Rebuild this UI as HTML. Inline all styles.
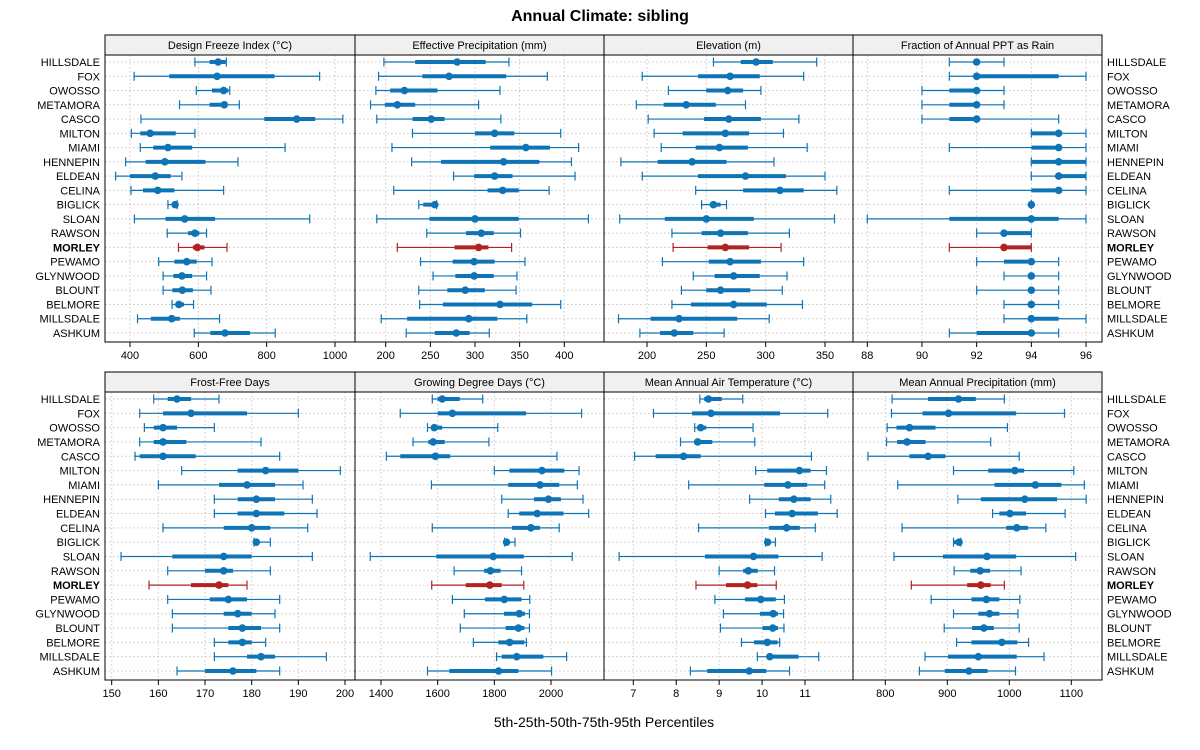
<!DOCTYPE html>
<html><head><meta charset="utf-8">
<style>
html,body{margin:0;padding:0;background:#fff;}
svg{display:block;font-family:"Liberation Sans",sans-serif;}
</style></head>
<body>
<svg id="chart" width="1200" height="750" viewBox="0 0 1200 750" xmlns="http://www.w3.org/2000/svg">
<text x="600" y="21" text-anchor="middle" font-size="16" font-weight="bold">Annual Climate: sibling</text>
<text x="604" y="727" text-anchor="middle" font-size="14">5th-25th-50th-75th-95th Percentiles</text>
<g id="panels"></g>
</svg>
<script>
const sites = ["HILLSDALE","FOX","OWOSSO","METAMORA","CASCO","MILTON","MIAMI","HENNEPIN","ELDEAN","CELINA","BIGLICK","SLOAN","RAWSON","MORLEY","PEWAMO","GLYNWOOD","BLOUNT","BELMORE","MILLSDALE","ASHKUM"];
const panelTitles = ["Design Freeze Index (\u00B0C)","Effective Precipitation (mm)","Elevation (m)","Fraction of Annual PPT as Rain","Frost-Free Days","Growing Degree Days (\u00B0C)","Mean Annual Air Temperature (\u00B0C)","Mean Annual Precipitation (mm)"];
const ticksFreeze = [400,600,800,1000];
const ticksEffPpt = [200,250,300,350,400];
const ticksElev = [200,250,300,350];
const ticksRain = [88,90,92,94,96];
const ticksFrost = [150,160,170,180,190,200];
const ticksGDD = [1400,1600,1800,2000];
const ticksMAAT = [7,8,9,10,11];
const ticksMAP = [800,900,1000,1100];
// each row: [p5,p25,p50,p75,p95]
const freezeIdx = [[590,633,658,680,682],[412,515,655,823,955],[594,640,674,688,692],[545,633,676,682,720],[432,793,888,942,1023],[404,430,459,534,590],[430,468,511,582,854],[387,446,502,621,716],[358,400,474,519,552],[403,438,481,530,674],[511,524,532,536,538],[413,504,560,649,926],[509,570,590,603,624],[542,584,597,618,684],[484,530,566,595,640],[497,527,552,582,624],[497,524,553,584,637],[523,534,543,558,586],[422,461,522,546,662],[588,635,678,751,825]];
const effPpt = [[198,233,280,312,338],[192,241,271,335,381],[189,205,221,258,328],[183,199,213,233,304],[190,230,251,266,329],[230,300,322,344,396],[207,317,357,384,416],[229,262,332,372,408],[276,299,322,342,412],[209,314,331,349,383],[237,242,255,257,257],[190,249,300,349,427],[246,290,307,321,351],[213,277,304,315,341],[239,275,299,322,356],[253,278,299,321,347],[237,269,289,311,346],[238,264,328,364,396],[195,224,293,325,358],[223,255,279,294,316]];
const elevation = [[256,279,292,306,343],[196,243,270,295,332],[218,250,268,281,296],[191,214,233,258,283],[201,248,269,296,328],[206,230,266,286,315],[212,241,261,285,335],[178,209,238,267,307],[196,243,283,317,350],[241,281,312,332,360],[246,253,256,262,267],[177,215,250,290,358],[221,246,262,285,320],[222,251,266,286,313],[213,252,270,296,332],[239,257,273,295,318],[229,250,262,287,314],[221,237,273,301,331],[176,203,227,276,303],[194,211,223,239,265]];
const rainFrac = [[91,92,92,92,93],[91,92,92,95,96],[90,91,92,92,93],[90,91,92,92,93],[90,91,92,92,95],[94,94,95,95,96],[91,94,95,95,96],[94,94,95,96,96],[94,95,95,96,96],[91,94,95,95,96],[94,94,94,94,94],[88,91,94,95,96],[92,93,93,94,94],[91,93,93,94,94],[92,93,94,94,95],[93,94,94,94,95],[92,94,94,94,95],[93,94,94,94,95],[93,94,94,95,96],[91,92,94,94,95]];
const frostFree = [[159,162,164,167,173],[156,161,167,179,190],[157,159,161,164,172],[156,159,161,166,182],[155,156,161,168,186],[165,177,183,190,199],[160,173,179,185,191],[172,177,181,185,193],[172,177,181,187,194],[161,174,180,184,192],[180.5,181,181,181.5,184],[152,163,174,180,193],[162,170,174,176,184],[158,167,173,175,179],[162,171,175,179,186],[163,174,177,180,185],[163,175,178,182,186],[172,175,178,180,183],[172,179,182,185,196],[164,170,176,181,186]];
const gdd = [[1581,1600,1616,1678,1759],[1468,1600,1652,1912,2108],[1564,1581,1588,1616,1812],[1513,1567,1584,1625,1781],[1419,1468,1592,1644,2021],[1800,1853,1968,2047,2099],[1578,1849,1961,2029,2093],[1826,1940,1991,2035,2113],[1849,1888,1951,2044,2133],[1581,1862,1929,1961,2029],[1836,1838,1843,1849,1873],[1362,1595,1796,1904,2075],[1658,1764,1786,1822,1896],[1579,1699,1784,1826,1904],[1652,1767,1835,1896,1925],[1694,1834,1888,1908,1924],[1680,1840,1885,1906,1924],[1726,1814,1854,1906,1913],[1808,1826,1879,1973,2055],[1564,1641,1815,1885,2002]];
const maat = [[8.55,8.65,8.75,9.06,9.55],[7.47,8.37,8.81,10.42,11.53],[8.43,8.51,8.57,8.70,9.79],[8.10,8.42,8.50,8.84,9.83],[7.03,7.52,8.17,8.57,11.15],[9.85,10.12,10.87,11.13,11.50],[8.29,10.05,10.60,11.05,11.46],[9.71,10.39,10.74,11.13,11.60],[10.08,10.30,10.70,11.30,11.75],[8.52,10.16,10.57,10.88,11.24],[10.08,10.10,10.13,10.20,10.31],[6.67,8.67,9.80,10.38,11.40],[9.00,9.56,9.68,9.90,10.29],[8.46,9.16,9.66,9.89,10.33],[8.90,9.60,9.97,10.32,10.52],[9.10,9.95,10.26,10.37,10.50],[9.03,10.01,10.25,10.37,10.51],[9.52,9.81,10.12,10.36,10.41],[9.89,10.11,10.18,10.85,11.32],[8.33,8.72,9.70,10.10,10.64]];
const map = [[811,869,918,946,992],[810,860,902,1011,1089],[803,818,839,881,997],[802,819,835,865,970],[772,839,869,897,1016],[910,966,1009,1024,1104],[820,976,1042,1084,1121],[917,954,1025,1077,1124],[973,984,1001,1027,1090],[827,995,1012,1030,1059],[910,911,919,921,922],[814,893,964,1011,1107],[911,937,953,969,1019],[842,932,954,970,992],[874,939,963,984,1017],[910,950,968,984,1014],[895,940,959,975,1016],[915,939,988,1013,1031],[864,901,950,1012,1056],[855,896,935,965,1010]];

const NS="http://www.w3.org/2000/svg";
const root=document.getElementById('panels');
function el(tag,attrs,parent){const e=document.createElementNS(NS,tag);for(const k in attrs)e.setAttribute(k,attrs[k]);(parent||root).appendChild(e);return e;}
// axis calibration: [value1, px1, value2, px2]
const panels=[
 {data:freezeIdx,ticks:ticksFreeze,cal:[400,130,1000,335]},
 {data:effPpt,ticks:ticksEffPpt,cal:[200,385.7,400,564.3]},
 {data:elevation,ticks:ticksElev,cal:[200,647,350,825]},
 {data:rainFrac,ticks:ticksRain,cal:[88,867.3,96,1086]},
 {data:frostFree,ticks:ticksFrost,cal:[150,111.7,200,345]},
 {data:gdd,ticks:ticksGDD,cal:[1400,381,2000,551]},
 {data:maat,ticks:ticksMAAT,cal:[7,633.3,11,805]},
 {data:map,ticks:ticksMAP,cal:[800,885.3,1100,1071.3]}
];
const colX=[105,355,604,853,1102];
const rowsY=[{strip:35,top:55,bot:342},{strip:372,top:392,bot:680}];
const BLUE="#0f74b5", RED="#b22222";
panels.forEach((p,i)=>{
  const c=i%4,r=Math.floor(i/4);
  const x0=colX[c],x1=colX[c+1],R=rowsY[r];
  const sx=v=>p.cal[1]+(v-p.cal[0])*(p.cal[3]-p.cal[1])/(p.cal[2]-p.cal[0]);
  const n=sites.length;
  const yTop=R.top+7,yBot=R.bot-9;
  const sy=k=>yTop+k*(yBot-yTop)/(n-1);
  const g=el('g',{});
  
  
  const st=el('rect',{x:x0,y:R.strip,width:x1-x0,height:R.top-R.strip,fill:'#f0f0f0',stroke:'#000','stroke-width':1},g);
  
  
  const tt=el('text',{x:(x0+x1)/2,y:R.strip+14,'text-anchor':'middle','font-size':11},g);
  tt.textContent=panelTitles[i];
  
  
  // grid
  sites.forEach((s,k)=>{
    const gl=el('line',{x1:x0,x2:x1,y1:sy(k),y2:sy(k),stroke:'#c8c8c8','stroke-dasharray':'1.5,2.5','stroke-width':1},g);
    
    
  });
  p.ticks.forEach(t=>{
    const x=sx(t);
    const vl=el('line',{x1:x,x2:x,y1:R.top,y2:R.bot,stroke:'#c8c8c8','stroke-dasharray':'1.5,2.5','stroke-width':1},g);
    
    
    const tk=el('line',{x1:x,x2:x,y1:R.bot,y2:R.bot+5,stroke:'#000','stroke-width':1},g);
    
    
    const tl=el('text',{x:x,y:R.bot+17,'text-anchor':'middle','font-size':11},g);
    tl.textContent=t;
    
    
  });
  // marks
  p.data.forEach((d,k)=>{
    const y=sy(k),col=sites[k]==="MORLEY"?RED:BLUE;
    const m=el('g',{},g);
    
    
    el('line',{x1:sx(d[0]),x2:sx(d[4]),y1:y,y2:y,stroke:col,'stroke-width':1.2},m);
    el('line',{x1:sx(d[0]),x2:sx(d[0]),y1:y-4.5,y2:y+4.5,stroke:col,'stroke-width':1.2},m);
    el('line',{x1:sx(d[4]),x2:sx(d[4]),y1:y-4.5,y2:y+4.5,stroke:col,'stroke-width':1.2},m);
    el('line',{x1:sx(d[1]),x2:sx(d[3]),y1:y,y2:y,stroke:col,'stroke-width':4},m);
    el('circle',{cx:sx(d[2]),cy:y,r:3.8,fill:col},m);
  });
  const fr=el('rect',{x:x0,y:R.top,width:x1-x0,height:R.bot-R.top,fill:'none',stroke:'#000','stroke-width':1},g);
  
  
  // row labels
  if(c===0||c===3){
    sites.forEach((s,k)=>{
      const lx=c===0?x0-5:x1+5;
      const lt=el('text',{x:lx,y:sy(k)+4,'text-anchor':c===0?'end':'start','font-size':11,'font-weight':s==="MORLEY"?'bold':'normal'},g);
      lt.textContent=s;
      
      
    });
  }
});
</script>
</body></html>
